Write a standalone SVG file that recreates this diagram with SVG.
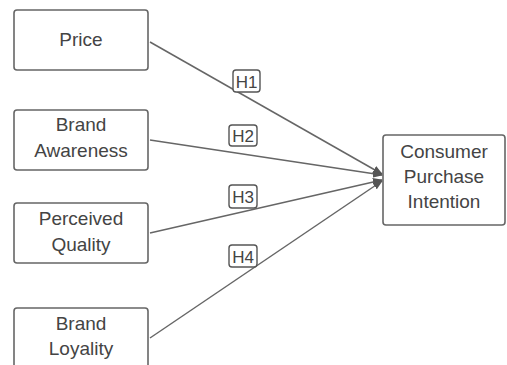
<svg xmlns="http://www.w3.org/2000/svg" width="507" height="365" viewBox="0 0 507 365">
<defs>
<marker id="arr" markerWidth="10" markerHeight="8" refX="9" refY="4" orient="auto" markerUnits="userSpaceOnUse">
<path d="M0,0 L10,4 L0,8 Z" fill="#555"/>
</marker>
<style>
.box{fill:#fff;stroke:#666;stroke-width:1.6}
.t{font-family:"Liberation Sans",Arial,sans-serif;font-size:19px;fill:#444;text-anchor:middle}
.lb{fill:#fff;stroke:#555;stroke-width:1.4}
.lt{font-family:"Liberation Sans",Arial,sans-serif;font-size:17px;fill:#444;text-anchor:middle}
.c{stroke:#666;stroke-width:1.5;fill:none;marker-end:url(#arr)}
</style>
</defs>
<rect width="507" height="365" fill="#fff"/>
<g id="connectors">
<line class="c" x1="150" y1="42" x2="382" y2="174"/>
<line class="c" x1="150" y1="140" x2="382" y2="175"/>
<line class="c" x1="150" y1="233" x2="382" y2="180"/>
<line class="c" x1="150" y1="338" x2="382" y2="181"/>
<g id="label-h1"><rect class="lb" x="233" y="70" width="27" height="22" rx="3"/><text class="lt" x="246.5" y="87.5">H1</text></g>
<g id="label-h2"><rect class="lb" x="229" y="125" width="28" height="21" rx="3"/><text class="lt" x="243" y="142">H2</text></g>
<g id="label-h3"><rect class="lb" x="229" y="185" width="28" height="23" rx="3"/><text class="lt" x="243" y="202.5">H3</text></g>
<g id="label-h4"><rect class="lb" x="229" y="245" width="28" height="22" rx="3"/><text class="lt" x="243" y="262.5">H4</text></g>
</g>
<g id="price"><rect class="box" x="14" y="10" width="134" height="60" rx="3"/><text class="t" x="81" y="46">Price</text></g>
<g id="brand-awareness"><rect class="box" x="14" y="110" width="134" height="60" rx="3"/><text class="t" x="81" y="131">Brand</text><text class="t" x="81" y="157">Awareness</text></g>
<g id="perceived-quality"><rect class="box" x="14" y="203" width="134" height="60" rx="3"/><text class="t" x="81" y="225">Perceived</text><text class="t" x="81" y="251">Quality</text></g>
<g id="brand-loyality"><rect class="box" x="14" y="308" width="134" height="62" rx="3"/><text class="t" x="81" y="330">Brand</text><text class="t" x="81" y="355">Loyality</text></g>
<g id="consumer-purchase-intention"><rect class="box" x="383" y="135" width="122" height="90" rx="3"/><text class="t" x="444" y="158">Consumer</text><text class="t" x="444" y="183">Purchase</text><text class="t" x="444" y="208">Intention</text></g>
</svg>
